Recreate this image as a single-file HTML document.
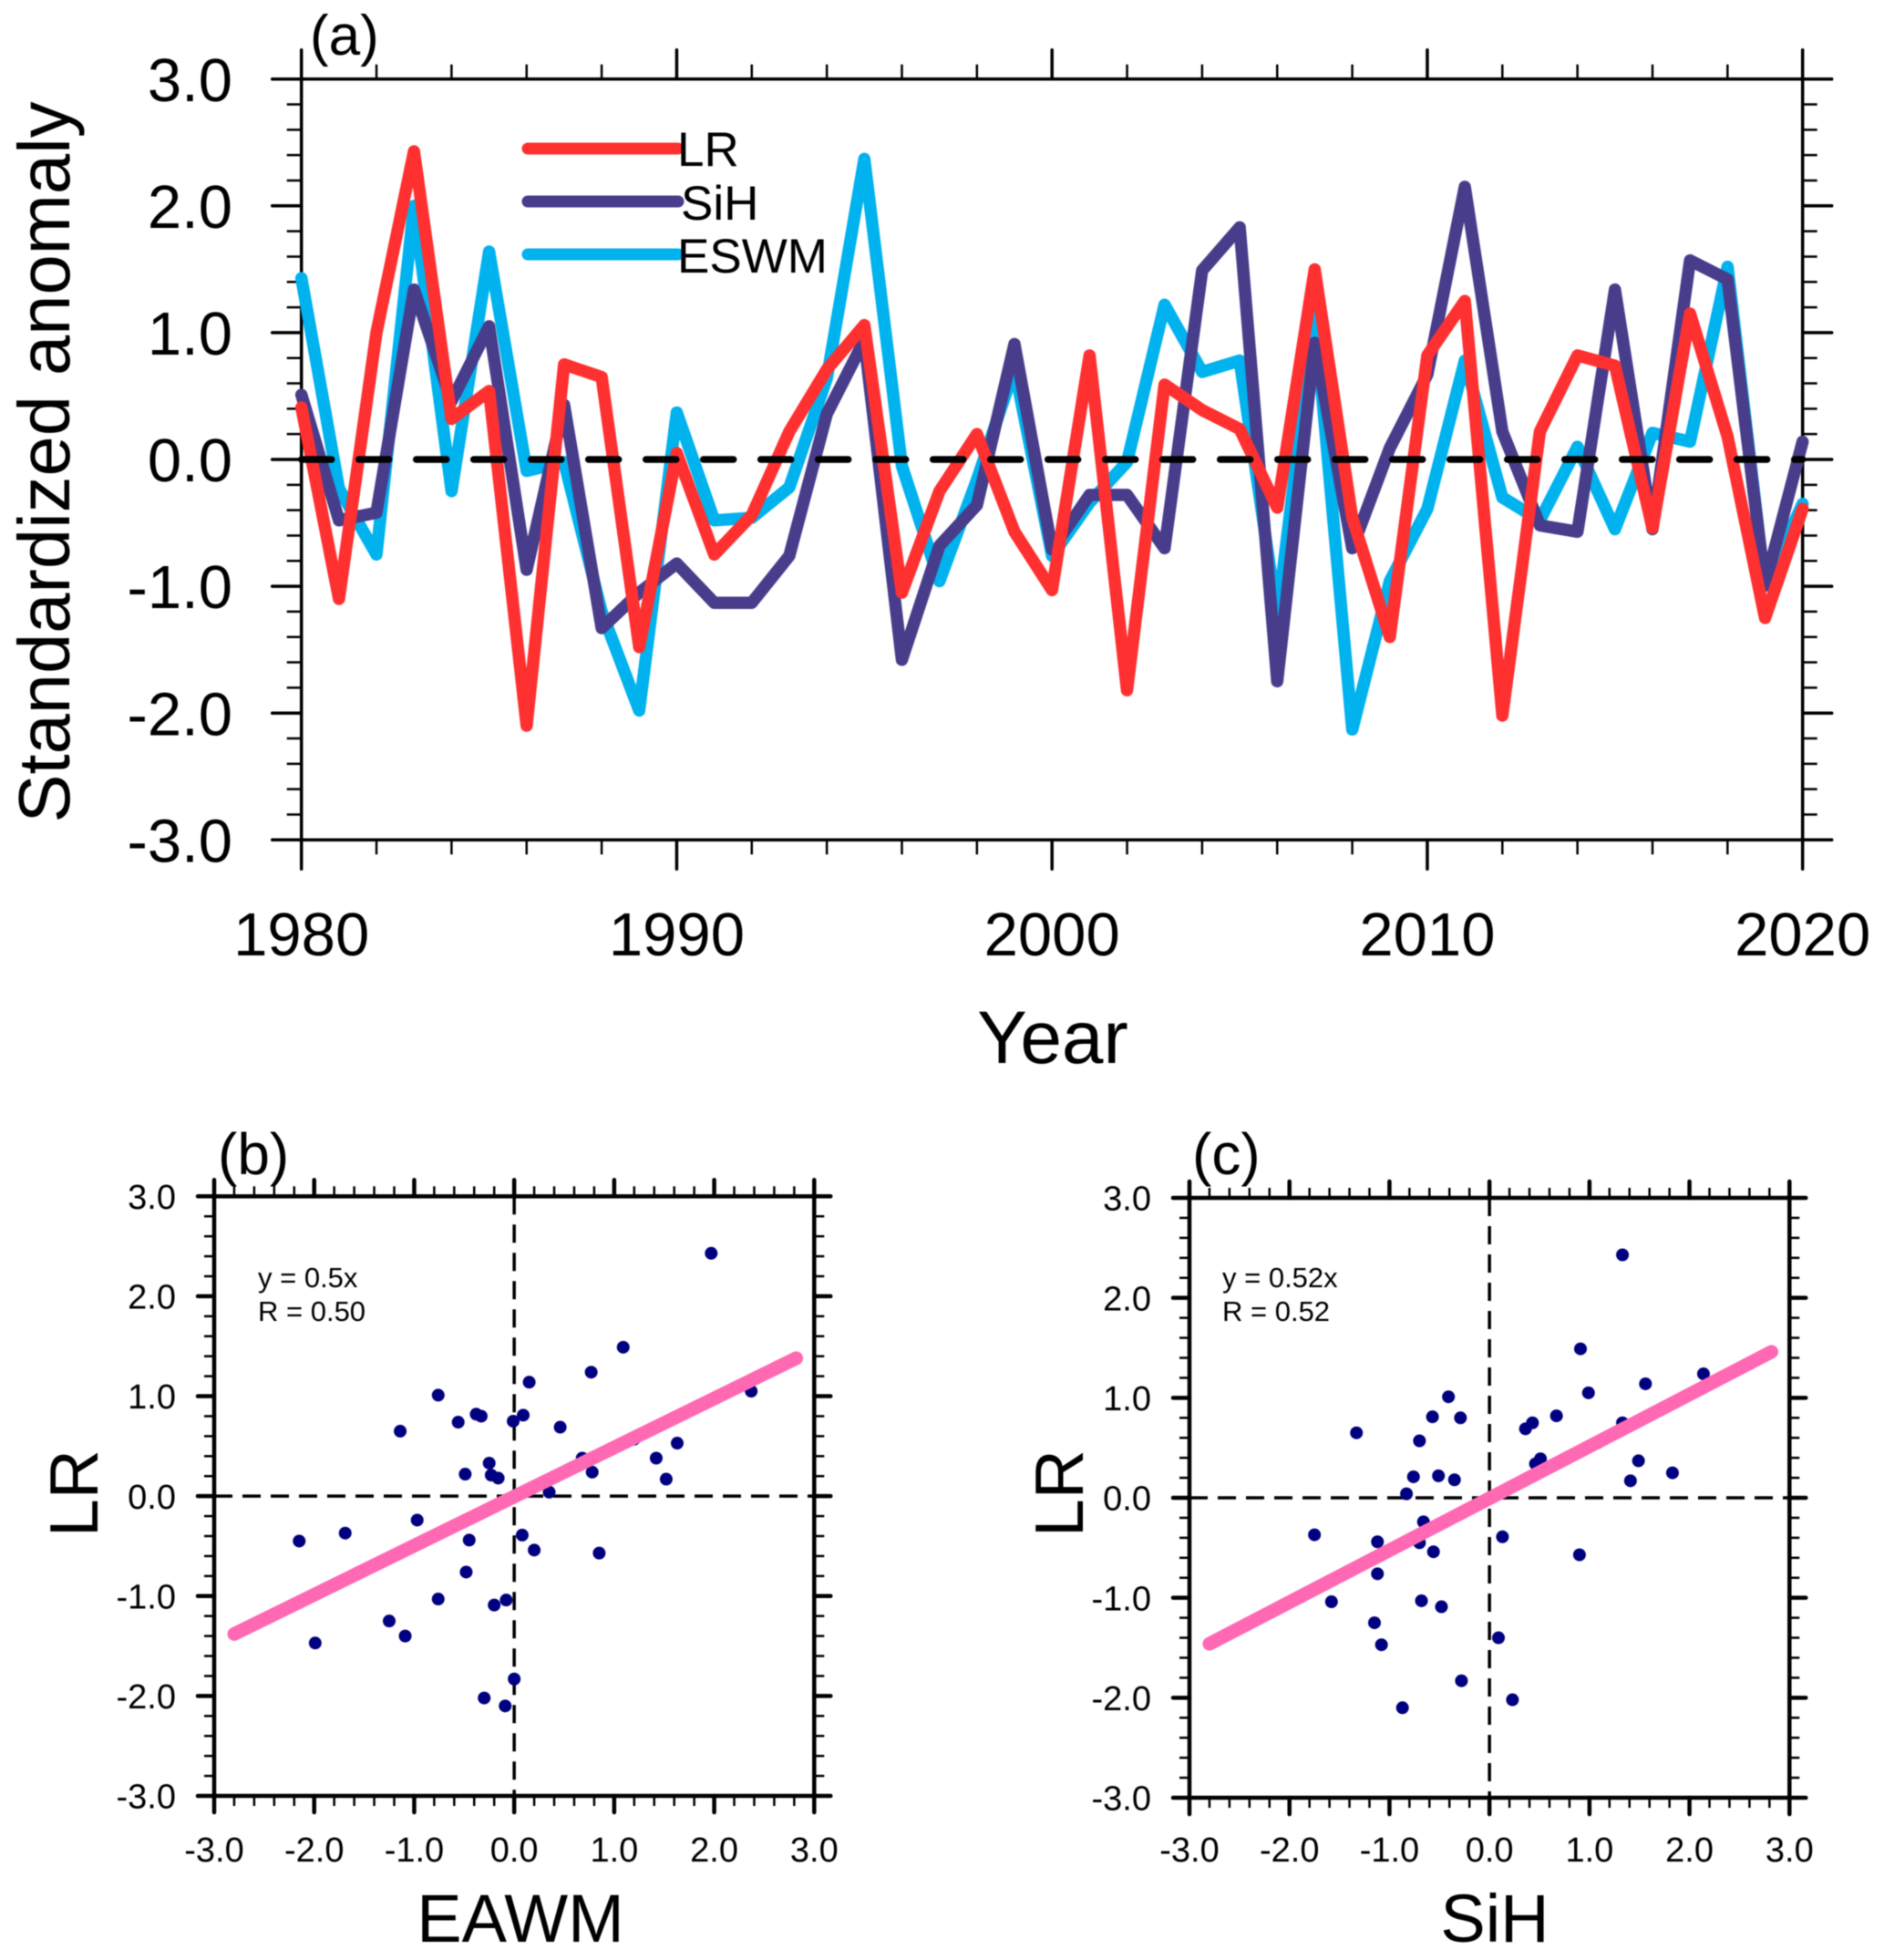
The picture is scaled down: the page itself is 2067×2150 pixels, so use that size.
<!DOCTYPE html>
<html lang="en">
<head>
<meta charset="utf-8">
<title>Standardized anomaly time series and scatter plots</title>
<style>
html,body{margin:0;padding:0;background:#fff;}
svg{display:block;filter:blur(0.5px);}
text{font-family:"Liberation Sans",sans-serif;fill:#000;}
</style>
</head>
<body>
<svg id="figure" xmlns="http://www.w3.org/2000/svg" width="2067" height="2150" viewBox="0 0 2067 2150">
  <rect x="0" y="0" width="2067" height="2150" fill="#fff"/>
  <g id="panel-a"></g>
  <g id="panel-b"></g>
  <g id="panel-c"></g>

  <text x="340" y="60" font-size="62">(a)</text>
  <text transform="translate(76,507) rotate(-90)" text-anchor="middle" font-size="79.5">Standardized anomaly</text>
  <text x="1155" y="1166" text-anchor="middle" font-size="82">Year</text>

  <line x1="579" y1="163" x2="744" y2="163" stroke="#ff3030" stroke-width="13" stroke-linecap="round"/>
  <line x1="579" y1="221" x2="744" y2="221" stroke="#483d8b" stroke-width="13" stroke-linecap="round"/>
  <line x1="579" y1="279" x2="744" y2="279" stroke="#00b2ee" stroke-width="13" stroke-linecap="round"/>
  <text x="743" y="182" font-size="53">LR</text>
  <text x="747" y="241" font-size="53">SiH</text>
  <text x="743" y="299" font-size="53">ESWM</text>

  <text x="239" y="1288" font-size="64">(b)</text>
  <text transform="translate(107,1638) rotate(-90)" text-anchor="middle" font-size="75">LR</text>
  <text x="571" y="2130" text-anchor="middle" font-size="74">EAWM</text>
  <text x="283" y="1412" font-size="31">y = 0.5x</text>
  <text x="283" y="1449" font-size="31">R = 0.50</text>

  <text x="1308" y="1288" font-size="64">(c)</text>
  <text transform="translate(1188,1638) rotate(-90)" text-anchor="middle" font-size="75">LR</text>
  <text x="1640" y="2130" text-anchor="middle" font-size="74">SiH</text>
  <text x="1341" y="1412" font-size="31">y = 0.52x</text>
  <text x="1341" y="1449" font-size="31">R = 0.52</text>
</svg>

<script>
// ---------- Panel (a) data ----------
const years = [1980,1981,1982,1983,1984,1985,1986,1987,1988,1989,1990,1991,1992,1993,1994,1995,1996,1997,1998,1999,2000,2001,2002,2003,2004,2005,2006,2007,2008,2009,2010,2011,2012,2013,2014,2015,2016,2017,2018,2019,2020];
const lrSeries = [0.41,-1.10,1.00,2.43,0.32,0.54,-2.10,0.75,0.65,-1.48,0.05,-0.75,-0.44,0.22,0.71,1.06,-1.05,-0.25,0.20,-0.57,-1.03,0.82,-1.82,0.59,0.39,0.24,-0.38,1.50,-0.46,-1.40,0.82,1.25,-2.02,0.22,0.82,0.74,-0.54,1.15,0.18,-1.25,-0.39];
const sihSeries = [0.51,-0.48,-0.42,1.34,0.46,1.05,-0.87,0.43,-1.33,-1.05,-0.82,-1.13,-1.13,-0.76,0.36,0.94,-1.58,-0.68,-0.36,0.91,-0.71,-0.28,-0.28,-0.70,1.49,1.83,-1.75,0.92,-0.70,0.09,0.67,2.15,0.22,-0.52,-0.57,1.34,-0.55,1.57,1.42,-0.99,0.14];
const eswmSeries = [1.43,-0.23,-0.75,2.00,-0.25,1.64,-0.09,-0.02,-1.20,-1.98,0.37,-0.48,-0.46,-0.22,0.64,2.37,-0.05,-0.96,-0.16,0.72,-0.76,-0.34,-0.02,1.22,0.69,0.78,-1.24,1.15,-2.13,-0.96,-0.39,0.78,-0.30,-0.48,0.10,-0.55,0.21,0.14,1.52,-1.00,-0.35];
const yearTickValues = [1980,1990,2000,2010,2020];
const yearTickLabels = ["1980","1990","2000","2010","2020"];
const anomalyTickValues = [-3,-2,-1,0,1,2,3];
const anomalyTickLabels = ["-3.0","-2.0","-1.0","0.0","1.0","2.0","3.0"];

// ---------- Panel (b) data ----------
const eawmX = [1.97,1.09,0.77,0.15,2.37,-0.76,0.09,-0.38,-0.33,-0.56,-0.01,0.46,-1.14,1.20,1.63,0.68,1.42,-0.25,-0.49,-0.23,-0.16,0.78,1.52,0.35,-0.97,-1.69,-2.15,-0.45,0.08,0.20,0.85,-0.48,-0.76,-0.08,-0.20,-1.25,-1.09,-1.99,0.00,-0.30,-0.09];
const eawmLR = [2.43,1.49,1.24,1.14,1.05,1.01,0.81,0.82,0.80,0.74,0.75,0.69,0.65,0.57,0.53,0.38,0.38,0.33,0.22,0.21,0.18,0.24,0.17,0.04,-0.24,-0.37,-0.45,-0.44,-0.39,-0.54,-0.57,-0.76,-1.03,-1.04,-1.09,-1.25,-1.40,-1.47,-1.83,-2.02,-2.10];
const eawmFitX = [-2.8,2.82];
const eawmFitY = [-1.38,1.38];

// ---------- Panel (c) data ----------
const sihX = [1.33,0.91,2.14,1.56,0.99,-0.41,0.67,-0.57,-0.29,0.43,1.33,0.36,-1.33,-0.70,1.08,0.51,0.46,1.49,-0.76,-0.51,-0.35,1.83,1.41,-0.83,-0.66,-1.75,-1.12,-0.70,0.13,-0.56,0.90,-1.12,-1.58,-0.68,-0.48,-1.15,0.09,-1.08,-0.28,0.23,-0.87];
const sihLR = [2.43,1.49,1.24,1.14,1.05,1.01,0.82,0.81,0.80,0.75,0.75,0.69,0.65,0.57,0.55,0.39,0.34,0.37,0.21,0.22,0.18,0.25,0.17,0.04,-0.24,-0.37,-0.44,-0.45,-0.39,-0.54,-0.57,-0.76,-1.04,-1.03,-1.09,-1.25,-1.40,-1.47,-1.83,-2.02,-2.10];
const sihFitX = [-2.8,2.82];
const sihFitY = [-1.46,1.46];

const scatterTickValues = [-3,-2,-1,0,1,2,3];
const scatterTickLabels = ["-3.0","-2.0","-1.0","0.0","1.0","2.0","3.0"];

// ---------- Helpers ----------
const SVGNS = "http://www.w3.org/2000/svg";
function mk(parent, tag, attrs) {
  const el = document.createElementNS(SVGNS, tag);
  for (const k in attrs) el.setAttribute(k, attrs[k]);
  parent.appendChild(el);
  return el;
}
function linear(d0, d1, r0, r1) {
  return function (v) { return r0 + (v - d0) * (r1 - r0) / (d1 - d0); };
}
function range(start, stop, step) {
  const out = [];
  const n = Math.round((stop - start) / step);
  for (let i = 0; i <= n; i++) out.push(start + i * step);
  return out;
}

// Draw frame, ticks, tick labels for any panel
function drawAxes(g, box, sx, sy, opt) {
  const frame = mk(g, "rect", {x: box.left, y: box.top, width: box.right - box.left, height: box.bottom - box.top, fill: "none", stroke: "#000", "stroke-width": opt.frameWidth});
  
  

  opt.xMinor.forEach(function (v) {
    const x = sx(v);
    [[box.top, box.top - opt.minorLen], [box.bottom, box.bottom + opt.minorLen]].forEach(function (p) {
      const t = mk(g, "line", {x1: x, x2: x, y1: p[0], y2: p[1], stroke: "#000", "stroke-width": opt.minorWidth});
      
      
    });
  });
  opt.yMinor.forEach(function (v) {
    const y = sy(v);
    [[box.left, box.left - opt.minorLen], [box.right, box.right + opt.minorLen]].forEach(function (p) {
      const t = mk(g, "line", {y1: y, y2: y, x1: p[0], x2: p[1], stroke: "#000", "stroke-width": opt.minorWidth});
      
      
    });
  });
  opt.xTicks.forEach(function (v, i) {
    const x = sx(v);
    [[box.top, box.top - opt.majorLen], [box.bottom, box.bottom + opt.majorLen]].forEach(function (p) {
      const t = mk(g, "line", {x1: x, x2: x, y1: p[0], y2: p[1], stroke: "#000", "stroke-width": opt.majorWidth, "stroke-linecap": "round"});
      
      
    });
    const lab = mk(g, "text", {x: x, y: opt.xLabelY, "text-anchor": "middle", "font-size": opt.labelSize});
    
    
    lab.textContent = opt.xLabels[i];
  });
  opt.yTicks.forEach(function (v, i) {
    const y = sy(v);
    [[box.left, box.left - opt.majorLen], [box.right, box.right + opt.majorLen]].forEach(function (p) {
      const t = mk(g, "line", {y1: y, y2: y, x1: p[0], x2: p[1], stroke: "#000", "stroke-width": opt.majorWidth, "stroke-linecap": "round"});
      
      
    });
    const lab = mk(g, "text", {x: opt.yLabelX, y: y + opt.labelSize * 0.36, "text-anchor": "end", "font-size": opt.labelSize});
    
    
    lab.textContent = opt.yLabels[i];
  });
}

// ---------- Panel (a) ----------
(function () {
  const g = document.getElementById("panel-a");
  const box = {left: 330.7, right: 1977.7, top: 86.7, bottom: 921.3};
  const sx = linear(1980, 2020, box.left, box.right);
  const sy = linear(-3, 3, box.bottom, box.top);

  const seriesList = [
    {name: "series-eswm", values: eswmSeries, color: "#00b2ee"},
    {name: "series-sih", values: sihSeries, color: "#483d8b"},
    {name: "series-lr", values: lrSeries, color: "#ff3030"}
  ];

  drawAxes(g, box, sx, sy, {
    frameWidth: 3.5, majorWidth: 3.5, minorWidth: 2.5, majorLen: 32, minorLen: 16,
    xTicks: yearTickValues, xLabels: yearTickLabels, xMinor: range(1980, 2020, 2),
    yTicks: anomalyTickValues, yLabels: anomalyTickLabels, yMinor: range(-3, 3, 0.2),
    labelSize: 67, xLabelY: 1048, yLabelX: 255
  });

  seriesList.forEach(function (s) {
    const pts = s.values.map(function (v, i) { return sx(years[i]).toFixed(1) + "," + sy(v).toFixed(1); }).join(" ");
    const line = mk(g, "polyline", {points: pts, fill: "none", stroke: s.color, "stroke-width": 13.5, "stroke-linejoin": "round", "stroke-linecap": "round"});
    
    
  });

  const zero = mk(g, "line", {x1: sx(1980), x2: sx(2020), y1: sy(0), y2: sy(0), stroke: "#000", "stroke-width": 7.5, "stroke-linecap": "round", "stroke-dasharray": "33 30"});
  
  
})();

// ---------- Scatter panels ----------
function drawScatter(id, box, xs, ys, fitX, fitY, yLabelX) {
  const g = document.getElementById(id);
  const sx = linear(-3, 3, box.left, box.right);
  const sy = linear(-3, 3, box.bottom, box.top);

  const h = mk(g, "line", {x1: box.left, x2: box.right, y1: sy(0), y2: sy(0), stroke: "#000", "stroke-width": 3.5, "stroke-dasharray": "20 11"});
  
  
  const v = mk(g, "line", {x1: sx(0), x2: sx(0), y1: box.top, y2: box.bottom, stroke: "#000", "stroke-width": 3.5, "stroke-dasharray": "20 11"});
  
  

  drawAxes(g, box, sx, sy, {
    frameWidth: 4.5, majorWidth: 4.5, minorWidth: 2.5, majorLen: 18, minorLen: 11,
    xTicks: scatterTickValues, xLabels: scatterTickLabels, xMinor: range(-3, 3, 0.2),
    yTicks: scatterTickValues, yLabels: scatterTickLabels, yMinor: range(-3, 3, 0.2),
    labelSize: 38, xLabelY: 2042, yLabelX: yLabelX
  });

  xs.forEach(function (x, i) {
    const dot = mk(g, "circle", {cx: sx(x), cy: sy(ys[i]), r: 7, fill: "#000080"});
    
    
  });

  const fit = mk(g, "line", {x1: sx(fitX[0]), y1: sy(fitY[0]), x2: sx(fitX[1]), y2: sy(fitY[1]), stroke: "#ff69b4", "stroke-width": 15, "stroke-linecap": "round"});
  
  
}
drawScatter("panel-b", {left: 235, right: 893.3, top: 1312.3, bottom: 1970}, eawmX, eawmLR, eawmFitX, eawmFitY, 193);
drawScatter("panel-c", {left: 1305, right: 1963.3, top: 1314, bottom: 1972}, sihX, sihLR, sihFitX, sihFitY, 1263);
</script>
</body>
</html>
